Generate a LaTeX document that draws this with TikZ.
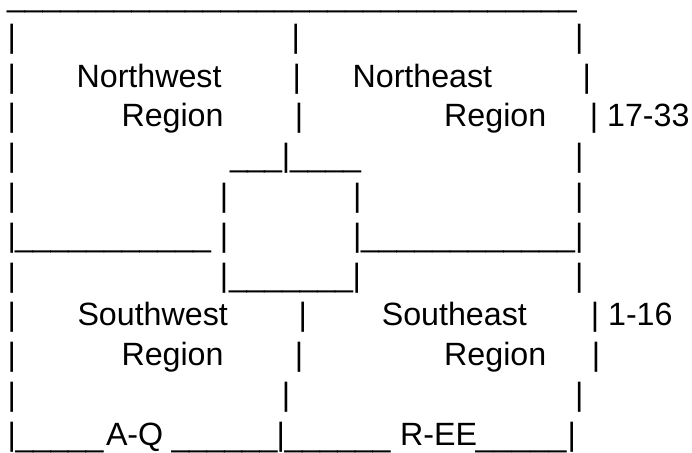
\documentclass[tikz,border=0pt]{standalone}
\usepackage{fontspec}
\setmainfont{Liberation Sans}
\newcount\uscnt
\newcommand{\usrun}[2]{\hbox to #2pt{\uscnt=#1\relax\_\loop\ifnum\uscnt>1 \hss\_\advance\uscnt by -1 \repeat}}
\begin{document}
\begin{tikzpicture}[x=1pt,y=-1pt,
  txt/.style={inner sep=0pt, outer sep=0pt, font=\fontsize{32.2}{38}\selectfont, anchor=base west},
  bar/.style={inner sep=0pt, outer sep=0pt, font=\fontsize{32.2}{38}\selectfont, anchor=base}]
\useasboundingbox (0,0) rectangle (692,452);
% row 1
\node[txt] (top) at (7,6.4) {\usrun{32}{570}};
% row 2
\foreach \x [count=\i] in {11.7,295.7,579.3} \node[bar] (rb\i) at (\x,47.2) {|};
% row 3
\foreach \x [count=\i] in {11.7,296.7,586.7} \node[bar] (rc\i) at (\x,87) {|};
\node[txt] (nw) at (76.6,87) {Northwest};
\node[txt] (ne) at (352.6,87) {Northeast};
% row 4
\foreach \x [count=\i] in {11.7,299} \node[bar] (rd\i) at (\x,126.8) {|};
\node[txt] (nwr) at (121.5,126.8) {Region};
\node[txt] (ner) at (444.2,126.8) {Region};
\node[txt] (lbltop) at (589.8,126.8) {| 17-33};
% row 5
\foreach \x [count=\i] in {11.7,286,579.3} \node[bar] (re\i) at (\x,166.6) {|};
\node[txt] (ua) at (230,166.6) {\usrun{3}{52}};
\node[txt] (ub) at (290,166.6) {\usrun{4}{71}};
% row 6
\foreach \x [count=\i] in {11.7,224,357.3,579.3} \node[bar] (rf\i) at (\x,206.4) {|};
% row 7
\foreach \x [count=\i] in {11.7,224,357.3,579.3} \node[bar] (rg\i) at (\x,246.2) {|};
\node[txt] (uc) at (15,246.2) {\usrun{11}{196}};
\node[txt] (ud) at (361,246.2) {\usrun{12}{214}};
% row 8
\foreach \x [count=\i] in {11.7,224,356.7,579.3} \node[bar] (rh\i) at (\x,286) {|};
\node[txt] (ue) at (229,286) {\usrun{7}{124}};
% row 9
\foreach \x [count=\i] in {11.7,302.7} \node[bar] (ri\i) at (\x,325.8) {|};
\node[txt] (sw) at (77.5,325.8) {Southwest};
\node[txt] (se) at (381.8,325.8) {Southeast};
\node[txt] (lblbot) at (590.8,325.8) {| 1-16};
% row 10
\foreach \x [count=\i] in {11.7,299,596} \node[bar] (rj\i) at (\x,365.6) {|};
\node[txt] (swr) at (121.5,365.6) {Region};
\node[txt] (ser) at (444.2,365.6) {Region};
% row 11
\foreach \x [count=\i] in {11.7,286,579.3} \node[bar] (rk\i) at (\x,405.4) {|};
% row 12
\foreach \x [count=\i] in {11.7,280.7,571.7} \node[bar] (rl\i) at (\x,445.2) {|};
\node[txt] (uf) at (15.5,446.5) {\usrun{5}{88}};
\node[txt] (aq) at (106,445.2) {A-Q};
\node[txt] (ug) at (171.5,446.5) {\usrun{6}{106}};
\node[txt] (uh) at (284.5,446.5) {\usrun{6}{106}};
\node[txt] (ree) at (400.2,445.2) {R-EE};
\node[txt] (ui) at (475.5,446.5) {\usrun{5}{91}};
\end{tikzpicture}
\end{document}
